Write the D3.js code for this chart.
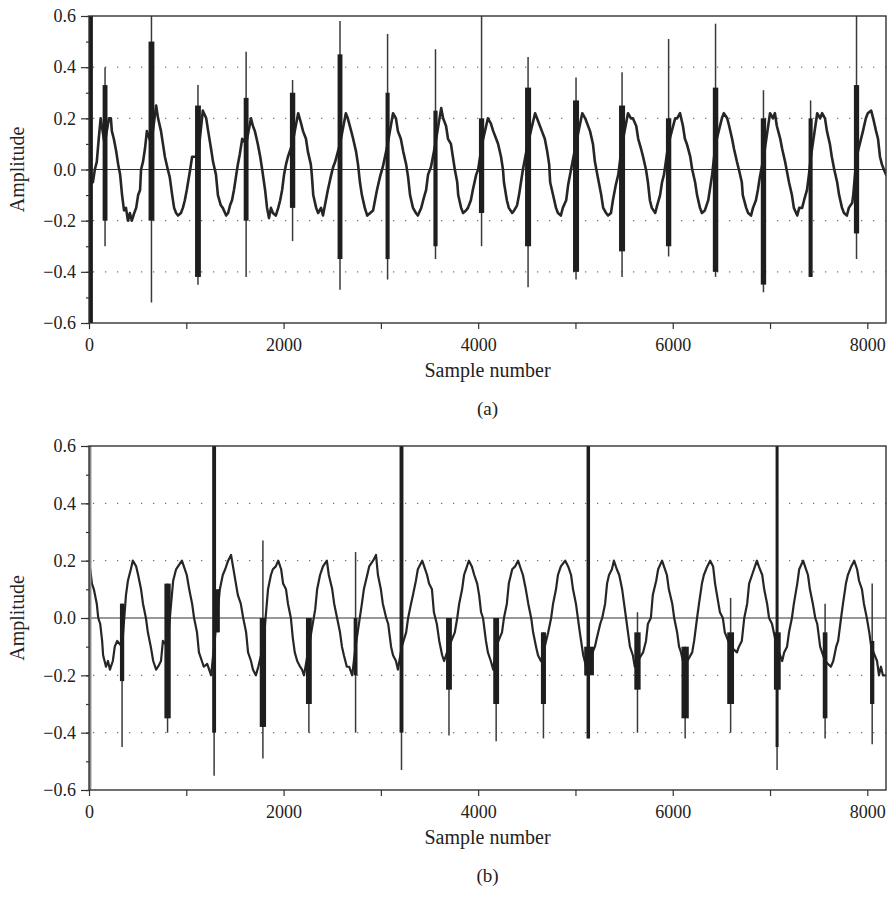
<!DOCTYPE html>
<html>
<head>
<meta charset="utf-8">
<title>Amplitude vs sample number</title>
<style>
body { margin: 0; background: white; }
svg { display: block; }
.tick text { font-family: "Liberation Serif", "DejaVu Serif", serif; font-size: 18px; fill: #222; }
.axis path { display: none; }
.axis line { stroke: #333; stroke-width: 1.2px; }
.label { font-family: "Liberation Serif", "DejaVu Serif", serif; font-size: 20px; fill: #222; }
.frame { fill: none; stroke: #333; stroke-width: 1.4px; }
.zero { stroke: #333; stroke-width: 1.2px; }
.grid { stroke: #777; stroke-width: 1.3px; stroke-dasharray: 1.3 10.7; }
.wave { fill: none; stroke: #262626; stroke-linejoin: round; stroke-linecap: round; }
.dense { fill: #1e1e1e; }
.thin { stroke: #3a3a3a; stroke-width: 1.5px; }
</style>
</head>
<body>
<svg id="chart" width="889" height="900"></svg>
<script src="https://d3js.org/d3.v7.min.js"></script>
<script>

// tick labels
var xTicks = [0, 2000, 4000, 6000, 8000];
var xMinor = [0, 1000, 2000, 3000, 4000, 5000, 6000, 7000, 8000];
var yTicks = [-0.6, -0.4, -0.2, 0, 0.2, 0.4, 0.6];
var yMinor = [-0.6, -0.5, -0.4, -0.3, -0.2, -0.1, 0, 0.1, 0.2, 0.3, 0.4, 0.5, 0.6];
var gridLevels = [-0.4, -0.2, 0.2, 0.4];

// (a) waveform, [sample, amplitude]
var waveA = [
  [40,-0.05],[60,0],[80,0.03],[100,0.12],[120,0.2],[160,0.1],[205,0.2],[225,0.2],[235,0.15],[255,0.12],[280,0.07],[300,0.02],
  [320,-0.02],[340,-0.1],[360,-0.16],[380,-0.15],[400,-0.2],[420,-0.17],[440,-0.2],[465,-0.17],[485,-0.15],[505,-0.1],
  [525,-0.08],[535,0],[555,0.03],[575,0.08],[595,0.15],[640,0.1],[690,0.25],[710,0.2],[740,0.15],[760,0.1],[780,0.05],
  [810,0],[830,-0.03],[855,-0.1],[875,-0.15],[895,-0.17],[915,-0.18],[945,-0.17],[965,-0.15],[985,-0.12],[1005,-0.08],
  [1040,0],[1060,0.05],[1120,0.05],[1170,0.23],[1205,0.2],[1225,0.15],[1255,0.08],[1275,0.03],[1305,-0.02],[1325,-0.1],
  [1355,-0.14],[1375,-0.15],[1410,-0.18],[1430,-0.17],[1450,-0.14],[1470,-0.12],[1490,-0.08],[1510,-0.03],[1530,0.02],
  [1550,0.06],[1575,0.12],[1615,0.1],[1665,0.2],[1685,0.17],[1705,0.15],[1735,0.1],[1760,0.05],[1780,0],[1810,-0.08],
  [1830,-0.15],[1850,-0.19],[1870,-0.15],[1890,-0.17],[1920,-0.18],[1945,-0.15],[1965,-0.12],[1985,-0.08],[2005,-0.02],
  [2025,0.02],[2045,0.05],[2090,0.1],[2150,0.22],[2180,0.18],[2200,0.15],[2230,0.12],[2250,0.07],[2280,0.02],[2290,-0.02],
  [2305,-0.1],[2335,-0.15],[2355,-0.17],[2385,-0.15],[2405,-0.18],[2435,-0.12],[2455,-0.08],[2490,-0.02],[2510,0.01],
  [2530,0.03],[2580,0.1],[2640,0.22],[2660,0.2],[2695,0.15],[2715,0.12],[2745,0.07],[2765,0.02],[2785,-0.05],[2805,-0.1],
  [2835,-0.15],[2860,-0.18],[2890,-0.17],[2920,-0.16],[2940,-0.12],[2960,-0.08],[2990,-0.03],[3020,0.01],[3070,0.1],
  [3125,0.22],[3155,0.2],[3175,0.15],[3205,0.12],[3230,0.07],[3260,0.02],[3280,-0.03],[3300,-0.1],[3330,-0.15],
  [3360,-0.17],[3380,-0.18],[3415,-0.15],[3435,-0.12],[3465,-0.08],[3485,-0.02],[3515,0.01],[3560,0.1],[3620,0.24],
  [3640,0.2],[3670,0.17],[3690,0.12],[3720,0.1],[3740,0.05],[3760,0],[3785,-0.05],[3795,-0.1],[3825,-0.15],[3845,-0.17],
  [3875,-0.16],[3895,-0.15],[3925,-0.12],[3945,-0.08],[3980,-0.02],[4000,0],[4040,0.1],[4100,0.2],[4130,0.18],[4155,0.15],
  [4185,0.12],[4205,0.1],[4235,0.05],[4255,0],[4265,-0.05],[4295,-0.12],[4315,-0.15],[4350,-0.17],[4370,-0.16],[4400,-0.14],
  [4420,-0.1],[4440,-0.05],[4460,0],[4510,0.1],[4585,0.22],[4605,0.2],[4635,0.17],[4655,0.15],[4685,0.12],[4710,0.07],
  [4730,0.02],[4740,-0.05],[4770,-0.1],[4800,-0.15],[4820,-0.17],[4850,-0.18],[4870,-0.15],[4905,-0.12],[4925,-0.06],
  [4955,0],[5005,0.1],[5070,0.22],[5100,0.2],[5150,0.15],[5180,0.1],[5200,0.03],[5230,-0.03],[5265,-0.1],[5285,-0.15],
  [5315,-0.17],[5335,-0.18],[5365,-0.17],[5385,-0.12],[5415,-0.06],[5440,-0.02],[5480,0.1],[5540,0.22],[5570,0.2],
  [5590,0.2],[5625,0.17],[5645,0.12],[5675,0.08],[5695,0.05],[5725,0],[5745,-0.05],[5765,-0.12],[5785,-0.15],[5820,-0.17],
  [5840,-0.14],[5870,-0.1],[5890,-0.05],[5910,-0.02],[5955,0.1],[6025,0.2],[6045,0.2],[6075,0.22],[6105,0.17],[6125,0.12],
  [6145,0.1],[6180,0.05],[6200,0],[6230,-0.05],[6250,-0.1],[6280,-0.15],[6300,-0.17],[6330,-0.16],[6365,-0.12],[6385,-0.07],
  [6405,-0.02],[6440,0.1],[6505,0.2],[6525,0.22],[6560,0.2],[6580,0.17],[6610,0.12],[6630,0.08],[6660,0.03],[6680,0],
  [6710,-0.05],[6720,-0.1],[6755,-0.15],[6775,-0.17],[6805,-0.18],[6825,-0.15],[6855,-0.12],[6875,-0.08],[6895,-0.03],
  [6935,0.05],[7000,0.22],[7030,0.2],[7050,0.22],[7070,0.17],[7105,0.12],[7125,0.08],[7155,0.03],[7175,-0.01],[7195,-0.05],
  [7225,-0.1],[7245,-0.15],[7280,-0.18],[7300,-0.15],[7330,-0.15],[7350,-0.12],[7380,-0.08],[7400,-0.02],[7420,0.05],
  [7485,0.22],[7515,0.2],[7535,0.22],[7565,0.2],[7585,0.15],[7615,0.1],[7635,0.05],[7660,0],[7690,-0.05],[7710,-0.1],
  [7740,-0.15],[7760,-0.17],[7790,-0.18],[7810,-0.15],[7845,-0.13],[7855,-0.1],[7890,0.05],[7955,0.15],[7985,0.2],
  [8005,0.22],[8040,0.23],[8060,0.2],[8090,0.15],[8110,0.12],[8130,0.05],[8150,0.02],[8170,0],[8192,-0.02]
];

// (a) impulse clusters: [fromSample, toSample, denseTop, denseBottom, peakTop, peakBottom]
var spikesA = [
  [0,40,0.6,-0.6,0.6,-0.6],
  [140,190,0.33,-0.2,0.4,-0.3],
  [612,672,0.5,-0.2,0.6,-0.52],
  [1090,1150,0.25,-0.42,0.33,-0.45],
  [1590,1640,0.28,-0.2,0.46,-0.42],
  [2065,2120,0.3,-0.15,0.35,-0.28],
  [2555,2605,0.45,-0.35,0.58,-0.47],
  [3048,3090,0.3,-0.35,0.53,-0.43],
  [3540,3583,0.23,-0.3,0.47,-0.35],
  [4008,4062,0.2,-0.17,0.6,-0.3],
  [4482,4544,0.32,-0.3,0.44,-0.46],
  [4975,5037,0.27,-0.4,0.36,-0.43],
  [5448,5510,0.25,-0.32,0.38,-0.42],
  [5930,5985,0.2,-0.3,0.51,-0.34],
  [6412,6468,0.32,-0.4,0.57,-0.42],
  [6905,6960,0.2,-0.45,0.31,-0.48],
  [7396,7438,0.2,-0.42,0.27,-0.42],
  [7862,7916,0.33,-0.25,0.6,-0.35]
];

// (b) waveform, [sample, amplitude]
var waveB = [
  [0,0.2],[20,0.15],[30,0.12],[50,0.1],[80,0.05],[95,0],[115,-0.02],[135,-0.08],[145,-0.13],[175,-0.17],[195,-0.15],
  [215,-0.18],[245,-0.15],[265,-0.1],[290,-0.08],[340,-0.1],[380,0.08],[400,0.13],[430,0.17],[450,0.2],[485,0.18],
  [505,0.15],[535,0.1],[555,0.05],[585,0],[605,-0.05],[635,-0.1],[660,-0.15],[690,-0.18],[710,-0.17],[740,-0.15],
  [760,-0.08],[805,-0.1],[865,0.13],[895,0.17],[915,0.18],[955,0.2],[975,0.18],[1005,0.15],[1030,0.1],[1060,0.05],
  [1080,0],[1110,-0.05],[1130,-0.12],[1160,-0.15],[1180,-0.17],[1215,-0.16],[1235,-0.18],[1255,-0.2],[1300,-0.05],
  [1345,0.1],[1375,0.15],[1400,0.17],[1430,0.2],[1460,0.22],[1480,0.18],[1510,0.12],[1530,0.08],[1560,0.05],[1585,0],
  [1615,-0.05],[1635,-0.12],[1665,-0.15],[1685,-0.18],[1715,-0.2],[1740,-0.17],[1790,-0.1],[1840,0.1],[1870,0.15],
  [1890,0.17],[1920,0.18],[1945,0.2],[1975,0.17],[1995,0.12],[2025,0.1],[2045,0.05],[2075,0],[2095,-0.07],[2115,-0.12],
  [2140,-0.15],[2170,-0.17],[2190,-0.18],[2210,-0.2],[2260,-0.1],[2325,0.03],[2345,0.1],[2375,0.15],[2405,0.18],
  [2445,0.2],[2465,0.15],[2500,0.1],[2520,0.05],[2550,0],[2580,-0.05],[2600,-0.1],[2620,-0.13],[2650,-0.17],[2675,-0.17],
  [2705,-0.2],[2740,-0.1],[2805,0.05],[2825,0.1],[2860,0.15],[2880,0.18],[2920,0.2],[2950,0.22],[2970,0.15],[3000,0.1],
  [3020,0.05],[3055,0],[3075,-0.02],[3105,-0.1],[3125,-0.13],[3155,-0.15],[3175,-0.18],[3215,-0.1],[3260,-0.05],[3280,0],
  [3310,0.05],[3330,0.08],[3360,0.13],[3380,0.17],[3425,0.2],[3445,0.18],[3475,0.15],[3495,0.12],[3525,0.1],[3545,0.02],
  [3575,-0.02],[3600,-0.08],[3630,-0.13],[3650,-0.15],[3700,-0.1],[3760,-0.05],[3785,0],[3805,0.05],[3835,0.1],
  [3855,0.15],[3885,0.18],[3905,0.2],[3935,0.18],[3960,0.15],[3990,0.12],[4010,0.08],[4030,0.02],[4050,0],[4080,-0.08],
  [4100,-0.12],[4130,-0.15],[4155,-0.18],[4185,-0.1],[4245,-0.05],[4265,0],[4295,0.05],[4315,0.12],[4350,0.17],
  [4380,0.18],[4410,0.2],[4440,0.17],[4460,0.15],[4490,0.1],[4515,0.05],[4545,0],[4565,-0.05],[4595,-0.1],[4615,-0.13],
  [4645,-0.15],[4670,-0.12],[4720,-0.05],[4750,0],[4770,0.05],[4800,0.1],[4820,0.15],[4850,0.18],[4895,0.2],[4925,0.18],
  [4955,0.15],[4975,0.1],[5005,0.05],[5025,0],[5045,-0.05],[5080,-0.13],[5110,-0.17],[5140,-0.15],[5200,-0.1],
  [5220,-0.07],[5255,-0.02],[5275,0],[5305,0.05],[5325,0.12],[5345,0.15],[5375,0.17],[5395,0.2],[5425,0.17],[5450,0.15],
  [5480,0.1],[5500,0.05],[5520,0],[5540,-0.05],[5560,-0.1],[5590,-0.13],[5610,-0.17],[5640,-0.15],[5695,-0.12],
  [5725,-0.08],[5745,-0.02],[5775,0],[5795,0.08],[5830,0.13],[5850,0.17],[5890,0.2],[5910,0.18],[5940,0.15],[5960,0.1],
  [5995,0.05],[6015,0],[6045,-0.05],[6065,-0.1],[6085,-0.12],[6105,-0.15],[6150,-0.15],[6200,-0.12],[6220,-0.08],
  [6250,0],[6270,0.05],[6300,0.12],[6320,0.15],[6355,0.18],[6385,0.2],[6415,0.18],[6435,0.12],[6455,0.08],[6485,0.02],
  [6515,0],[6535,-0.05],[6595,-0.1],[6660,-0.12],[6680,-0.1],[6710,-0.08],[6735,0],[6765,0.05],[6785,0.12],[6815,0.15],
  [6835,0.17],[6865,0.2],[6885,0.18],[6920,0.15],[6940,0.1],[6970,0.05],[6990,0],[7020,-0.02],[7070,-0.1],[7125,-0.15],
  [7145,-0.12],[7175,-0.1],[7195,-0.05],[7225,0],[7245,0.05],[7280,0.12],[7300,0.17],[7340,0.2],[7360,0.18],[7390,0.15],
  [7410,0.1],[7440,0.05],[7465,0],[7485,-0.02],[7515,-0.1],[7565,-0.15],[7625,-0.17],[7650,-0.15],[7680,-0.1],[7700,-0.08],
  [7730,0],[7750,0.05],[7780,0.12],[7800,0.15],[7835,0.18],[7865,0.2],[7895,0.17],[7915,0.13],[7945,0.1],[7965,0.05],
  [7995,0],[8020,-0.05],[8040,-0.1],[8100,-0.15],[8120,-0.2],[8140,-0.17],[8160,-0.2],[8192,-0.2]
];

// (b) impulse clusters: [fromSample, toSample, denseTop, denseBottom, peakTop, peakBottom]
var spikesB = [
  [0,25,0.6,-0.6,0.6,-0.6],
  [318,362,0.05,-0.22,0.05,-0.45],
  [775,840,0.12,-0.35,0.12,-0.4],
  [1266,1306,0.6,-0.4,0.6,-0.55],
  [1300,1345,0.1,-0.05,0.1,-0.05],
  [1755,1820,0,-0.38,0.27,-0.49],
  [2230,2290,0,-0.3,0,-0.4],
  [2720,2760,0,-0.2,0.23,-0.4],
  [3192,3232,0.6,-0.4,0.6,-0.53],
  [3670,3730,0,-0.25,0,-0.41],
  [4155,4215,0,-0.3,0,-0.43],
  [4645,4697,-0.05,-0.3,-0.05,-0.42],
  [5114,5150,0.6,-0.42,0.6,-0.42],
  [5090,5190,-0.1,-0.2,-0.1,-0.2],
  [5605,5670,-0.05,-0.25,0.02,-0.4],
  [6090,6165,-0.1,-0.35,-0.1,-0.42],
  [6560,6630,-0.05,-0.3,0.07,-0.4],
  [7057,7088,0.6,-0.45,0.6,-0.53],
  [7040,7110,-0.05,-0.25,-0.05,-0.25],
  [7542,7590,-0.05,-0.35,0.05,-0.42],
  [8028,8072,-0.08,-0.3,0.12,-0.44]
];

var svg = d3.select("#chart");
var left = 89, right = 886;

var panels = [
  { wave: waveA, spikes: spikesA, top: 16, bottom: 323, tag: "(a)", edge: "#1c1c1c", lw: 2.6 },
  { wave: waveB, spikes: spikesB, top: 446, bottom: 790, tag: "(b)", edge: "#8a8a8a", lw: 2.2 }
];

var x = d3.scaleLinear().domain([0, 8192]).range([left, right]);

panels.forEach(function(p, i) {
  var y = d3.scaleLinear().domain([-0.6, 0.6]).range([p.bottom, p.top]);
  var g = svg.append("g");

  g.append("clipPath").attr("id", "clip" + i)
    .append("rect")
      .attr("x", left).attr("y", p.top)
      .attr("width", right - left).attr("height", p.bottom - p.top);

  g.selectAll(".grid").data(gridLevels).enter().append("line")
    .attr("class", "grid")
    .attr("x1", left + 4).attr("x2", right)
    .attr("y1", function(d) { return y(d); })
    .attr("y2", function(d) { return y(d); });

  var plot = g.append("g").attr("clip-path", "url(#clip" + i + ")");

  plot.append("line").attr("class", "zero")
    .attr("x1", left).attr("x2", right)
    .attr("y1", y(0)).attr("y2", y(0));

  var line = d3.line()
    .x(function(d) { return x(d[0]); })
    .y(function(d) { return y(d[1]); });

  plot.append("path").datum(p.wave)
    .attr("class", "wave")
    .attr("stroke-width", p.lw)
    .attr("d", line);

  plot.selectAll(".thin").data(p.spikes).enter().append("line")
    .attr("class", "thin")
    .attr("x1", function(d) { return x((d[0] + d[1]) / 2); })
    .attr("x2", function(d) { return x((d[0] + d[1]) / 2); })
    .attr("y1", function(d) { return y(d[4]); })
    .attr("y2", function(d) { return y(d[5]); });

  plot.selectAll(".dense").data(p.spikes).enter().append("rect")
    .attr("class", "dense")
    .attr("x", function(d) { return x(d[0]); })
    .attr("width", function(d) { return x(d[1]) - x(d[0]); })
    .attr("y", function(d) { return y(d[2]); })
    .attr("height", function(d) { return y(d[3]) - y(d[2]); })
    .style("fill", function(d, j) { return j === 0 ? p.edge : null; });

  g.append("rect").attr("class", "frame")
    .attr("x", left).attr("y", p.top)
    .attr("width", right - left).attr("height", p.bottom - p.top);

  g.append("g").attr("class", "axis")
    .attr("transform", "translate(0," + p.bottom + ")")
    .call(d3.axisBottom(x).tickValues(xMinor).tickSize(6)
      .tickFormat(function(d) { return xTicks.indexOf(d) >= 0 ? d : ""; }))
    .selectAll("text").attr("dy", "1.05em");

  g.append("g").attr("class", "axis")
    .attr("transform", "translate(" + left + ",0)")
    .call(d3.axisLeft(y).tickValues(yMinor).tickSize(3).tickFormat(""));

  g.append("g").attr("class", "axis")
    .attr("transform", "translate(" + left + ",0)")
    .call(d3.axisLeft(y).tickValues(yTicks).tickSize(8).tickPadding(5).tickFormat(d3.format(".1f")));

  g.append("text").attr("class", "label")
    .attr("text-anchor", "middle")
    .attr("transform", "translate(24," + ((p.top + p.bottom) / 2) + ") rotate(-90)")
    .text("Amplitude");

  g.append("text").attr("class", "label")
    .attr("text-anchor", "middle")
    .attr("x", (left + right) / 2).attr("y", p.bottom + 54)
    .text("Sample number");

  g.append("text").attr("class", "label")
    .attr("text-anchor", "middle")
    .attr("x", (left + right) / 2).attr("y", p.bottom + 92)
    .style("font-size", "19px")
    .text(p.tag);
});

</script>
</body>
</html>
